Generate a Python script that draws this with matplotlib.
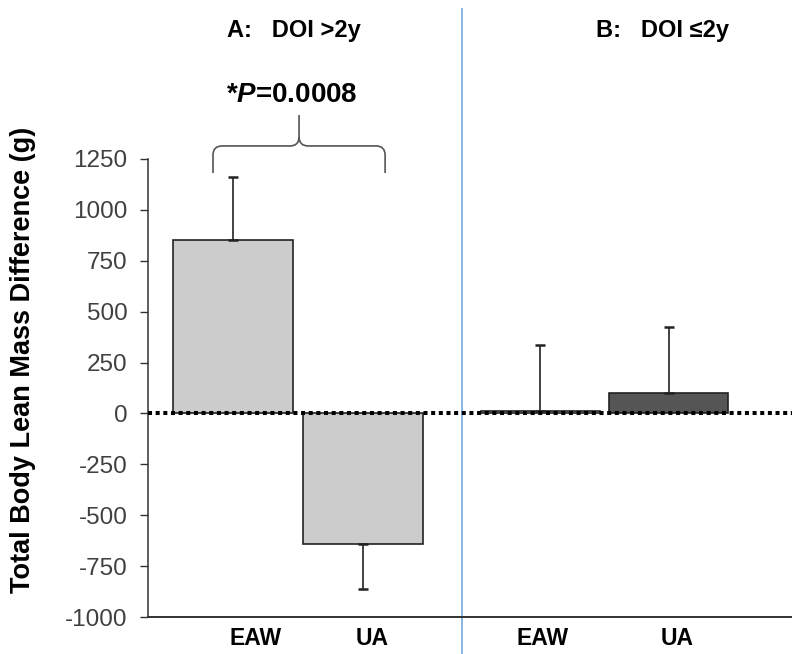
import matplotlib
matplotlib.use("Agg")
import matplotlib.pyplot as plt
from matplotlib.path import Path
from matplotlib.patches import PathPatch

# ---- data ----
groups = ["EAW", "UA", "EAW", "UA"]
means = [852, -641, 12, 100]
err = [310, 221, 325, 325]          # one-sided error (away from zero)
panel_titles = ["A:   DOI >2y", "B:   DOI \u22642y"]
yticks = [-1000, -750, -500, -250, 0, 250, 500, 750, 1000, 1250]
pval_text = "*$P$=0.0008"

plt.rcParams['font.family'] = ['Liberation Sans', 'DejaVu Sans']
plt.rcParams['mathtext.fontset'] = 'custom'
plt.rcParams['mathtext.it'] = 'Liberation Sans:italic:bold'
plt.rcParams['mathtext.rm'] = 'Liberation Sans:bold'

fig = plt.figure(figsize=(7.92, 6.54), dpi=100)
ax = fig.add_axes([148/792, 37/654, 1 - 148/792, 617/654])

xpos = [0, 1.0, 2.365, 3.35]
colors = ["#cccccc", "#cccccc", "#cccccc", "#555555"]
width = 0.92
ax.bar(xpos, means, width=width, color=colors, edgecolor="#222222", linewidth=1.2, zorder=2)
for x, m, e in zip(xpos, means, err):
    lo, hi = (0, e) if m >= 0 else (e, 0)
    ax.errorbar([x], [m], yerr=[[lo], [hi]], fmt="none", ecolor="#222222",
                elinewidth=1.2, capsize=3.3, capthick=1.8, zorder=3)

ax.axhline(0, color="black", linestyle=(0, (1.0, 0.9)), linewidth=2.9, zorder=4)

ax.set_xlim(-0.654, 4.3)
ax.set_ylim(-1000, 2031)
ax.set_yticks(yticks)
ax.set_yticklabels([str(t) for t in yticks], fontsize=17.5, color="#404040")
ax.tick_params(axis="y", direction="out", length=5.8, width=1.0, pad=9, color="#333333")
ax.set_xticks([])
for s in ["top", "right"]:
    ax.spines[s].set_visible(False)
ax.spines["left"].set_bounds(-1000, 1250)
ax.spines["left"].set_linewidth(1.1)
ax.spines["left"].set_color("#333333")
ax.spines["bottom"].set_linewidth(1.4)
ax.spines["bottom"].set_color("#333333")

ax.set_ylabel("Total Body Lean Mass Difference (g)", fontsize=19.5, fontweight="bold")
ax.yaxis.set_label_coords((36 - 148) / 644, 0.417)

# category labels
label_x = [0.177, 1.07, 2.385, 3.415]
for x, g in zip(label_x, groups):
    ax.text(x, -1105, g, ha="center", va="center", fontsize=16.5, fontweight="bold")

# divider
ax.plot([1.762, 1.762], [-1200, 1985], color="#7fb0e0", linewidth=1.3, clip_on=False, zorder=1)

# titles
ax.text(0.465, 1849, panel_titles[0], ha="center", va="baseline", fontsize=17, fontweight="bold")
ax.text(3.30, 1849, panel_titles[1], ha="center", va="baseline", fontsize=17, fontweight="bold")
ax.text(0.454, 1530, pval_text, ha="center", va="baseline", fontsize=20, fontweight="bold")

# brace
xl, xr, xc = -0.154, 1.17, 0.508
yb, ym, yt = 1181, 1314, 1466
dx = 0.07
dy = 45
verts = [(xl, yb), (xl, ym - dy), (xl, ym), (xl + dx, ym),
         (xc - dx, ym), (xc, ym), (xc, ym + dy), (xc, yt)]
codes = [Path.MOVETO, Path.LINETO, Path.CURVE3, Path.CURVE3,
         Path.LINETO, Path.CURVE3, Path.CURVE3, Path.LINETO]
verts2 = [(xr, yb), (xr, ym - dy), (xr, ym), (xr - dx, ym),
          (xc + dx, ym), (xc, ym), (xc, ym + dy)]
codes2 = [Path.MOVETO, Path.LINETO, Path.CURVE3, Path.CURVE3,
          Path.LINETO, Path.CURVE3, Path.CURVE3]
for v, c in [(verts, codes), (verts2, codes2)]:
    ax.add_patch(PathPatch(Path(v, c), facecolor="none", edgecolor="#555555",
                           linewidth=1.2, clip_on=False))

fig.savefig("out.png", dpi=100)
